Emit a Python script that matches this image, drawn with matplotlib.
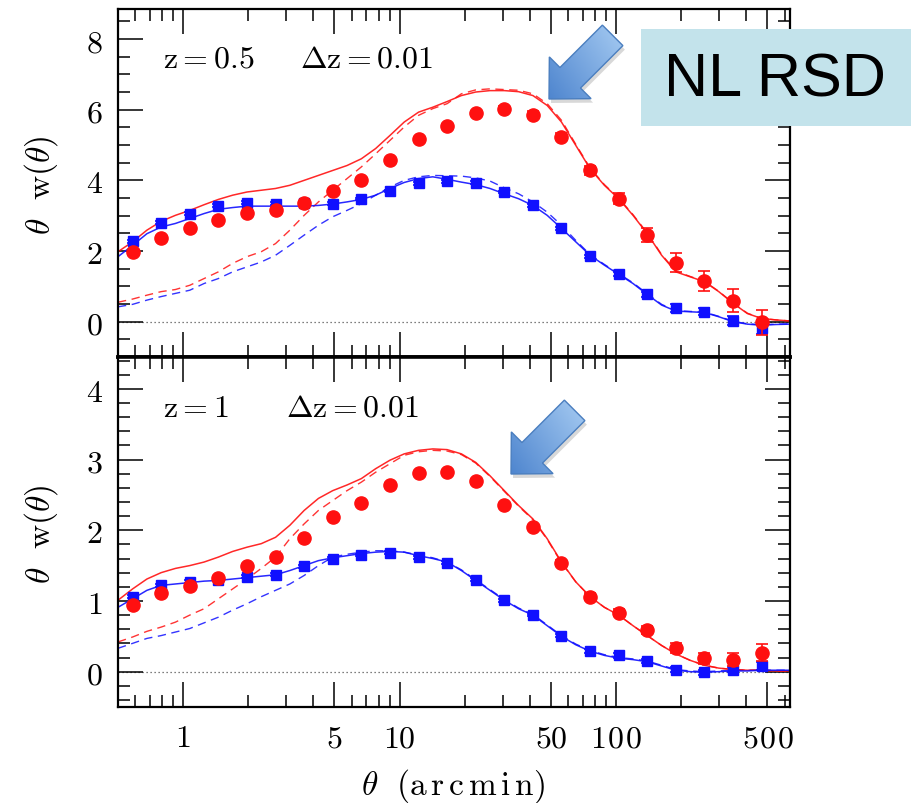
import numpy as np
import matplotlib.pyplot as plt
from matplotlib.patches import Polygon, Rectangle
from matplotlib.colors import LinearSegmentedColormap
from matplotlib.ticker import FixedLocator, FixedFormatter, NullFormatter

plt.rcParams['mathtext.fontset'] = 'cm'

# angular bins of the measurements (arcmin)
theta = [0.584, 0.791, 1.073, 1.454, 1.971, 2.672, 3.622, 4.909, 6.654, 9.020,
         12.23, 16.57, 22.46, 30.45, 41.27, 55.94, 75.83, 102.8, 139.3, 188.9,
         256.1, 347.1, 470.5]
# model curves are tabulated on a finer grid (bin centres and half bins)
theta_model = [0.5, 0.584, 0.680, 0.791, 0.921, 1.073, 1.249, 1.454, 1.693, 1.971,
               2.295, 2.672, 3.111, 3.622, 4.217, 4.909, 5.715, 6.654, 7.747, 9.020,
               10.50, 12.23, 14.23, 16.57, 19.29, 22.46, 26.15, 30.45, 35.44, 41.27,
               48.05, 55.94, 65.13, 75.83, 88.29, 102.8, 119.7, 139.3, 162.3, 188.9,
               219.9, 256.1, 298.1, 347.1, 404.1, 470.5, 547.7, 636]

# ---- z = 0.5 ----
red_pts_05 = [1.96, 2.38, 2.64, 2.88, 3.08, 3.16, 3.37, 3.70, 4.01, 4.58, 5.18, 5.53,
              5.90, 6.03, 5.86, 5.24, 4.28, 3.48, 2.45, 1.67, 1.15, 0.59, -0.02]
red_err_05 = [0.05, 0.05, 0.05, 0.05, 0.05, 0.05, 0.05, 0.05, 0.05, 0.06, 0.06, 0.07,
              0.07, 0.08, 0.09, 0.10, 0.12, 0.15, 0.20, 0.26, 0.28, 0.33, 0.36]
blue_pts_05 = [2.28, 2.80, 3.06, 3.28, 3.37, 3.34, 3.35, 3.34, 3.47, 3.70, 3.92, 3.97,
               3.93, 3.67, 3.29, 2.64, 1.85, 1.34, 0.77, 0.39, 0.28, 0.03, -0.19]
blue_err_05 = [0.04, 0.04, 0.04, 0.04, 0.04, 0.04, 0.04, 0.04, 0.04, 0.04, 0.04, 0.04,
               0.04, 0.04, 0.04, 0.04, 0.05, 0.06, 0.07, 0.12, 0.10, 0.12, 0.17]
red_solid_05 = [1.98, 2.26, 2.59, 2.84, 3.01, 3.15, 3.31, 3.46, 3.58, 3.67, 3.72, 3.77,
                3.86, 4.00, 4.14, 4.28, 4.42, 4.61, 4.90, 5.27, 5.65, 5.93, 6.07, 6.23,
                6.40, 6.50, 6.54, 6.54, 6.51, 6.40, 6.12, 5.65, 4.99, 4.33, 3.86, 3.48,
                3.01, 2.49, 1.88, 1.41, 1.27, 1.13, 0.85, 0.52, 0.23, 0.09, 0.05, 0.02]
red_dash_05 = [0.55, 0.64, 0.75, 0.85, 0.91, 1.03, 1.22, 1.41, 1.65, 1.84, 1.98, 2.21,
               2.59, 3.01, 3.39, 3.72, 4.05, 4.38, 4.75, 5.13, 5.51, 5.84, 6.03, 6.17,
               6.45, 6.56, 6.59, 6.57, 6.55, 6.45, 6.17, 5.70, 5.02, 4.35, 3.88, 3.50,
               3.03, 2.51, 1.90, 1.43, 1.28, 1.14, 0.86, 0.53, 0.24, 0.09, 0.05, 0.02]
blue_solid_05 = [1.84, 2.16, 2.49, 2.68, 2.78, 2.92, 3.06, 3.18, 3.23, 3.27, 3.27, 3.27,
                 3.27, 3.27, 3.29, 3.33, 3.39, 3.46, 3.58, 3.77, 3.94, 4.05, 4.10, 4.03,
                 3.95, 3.88, 3.77, 3.62, 3.48, 3.29, 3.01, 2.64, 2.26, 1.88, 1.60, 1.34,
                 1.08, 0.77, 0.47, 0.30, 0.28, 0.26, 0.14, 0.00, -0.07, -0.10, -0.08, -0.07]
blue_dash_05 = [0.42, 0.49, 0.61, 0.71, 0.80, 0.89, 1.08, 1.22, 1.41, 1.55, 1.69, 1.88,
                2.16, 2.45, 2.73, 2.97, 3.15, 3.34, 3.58, 3.81, 4.00, 4.10, 4.14, 4.13,
                4.12, 4.07, 3.98, 3.79, 3.62, 3.39, 3.10, 2.73, 2.30, 1.90, 1.62, 1.36,
                1.10, 0.79, 0.49, 0.31, 0.29, 0.27, 0.15, 0.01, -0.06, -0.09, -0.07, -0.06]

# ---- z = 1 ----
red_pts_1 = [0.94, 1.11, 1.21, 1.32, 1.49, 1.62, 1.89, 2.19, 2.39, 2.64, 2.81, 2.82,
             2.69, 2.36, 2.05, 1.54, 1.06, 0.83, 0.59, 0.33, 0.19, 0.17, 0.27]
red_err_1 = [0.03, 0.03, 0.03, 0.03, 0.03, 0.03, 0.03, 0.03, 0.03, 0.03, 0.03, 0.03,
             0.03, 0.03, 0.03, 0.04, 0.05, 0.05, 0.06, 0.07, 0.08, 0.09, 0.12]
blue_pts_1 = [1.06, 1.22, 1.27, 1.30, 1.34, 1.37, 1.49, 1.60, 1.65, 1.68, 1.62, 1.54,
              1.30, 1.01, 0.80, 0.51, 0.29, 0.23, 0.15, 0.03, -0.01, 0.03, 0.08]
blue_err_1 = [0.02, 0.02, 0.02, 0.02, 0.02, 0.02, 0.02, 0.02, 0.02, 0.02, 0.02, 0.02,
              0.02, 0.02, 0.02, 0.02, 0.03, 0.03, 0.03, 0.04, 0.04, 0.04, 0.05]
red_solid_1 = [1.01, 1.17, 1.31, 1.40, 1.46, 1.50, 1.55, 1.62, 1.70, 1.76, 1.81, 1.90,
               2.07, 2.28, 2.45, 2.56, 2.64, 2.73, 2.87, 2.99, 3.08, 3.13, 3.15, 3.14,
               3.08, 2.96, 2.77, 2.56, 2.35, 2.16, 1.88, 1.55, 1.27, 1.06, 0.91, 0.80,
               0.65, 0.51, 0.37, 0.25, 0.16, 0.09, 0.05, 0.03, 0.02, 0.02, 0.01, 0.01]
red_dash_1 = [0.42, 0.49, 0.57, 0.63, 0.70, 0.80, 0.89, 1.03, 1.17, 1.31, 1.46, 1.62,
              1.88, 2.09, 2.28, 2.42, 2.56, 2.68, 2.82, 2.94, 3.06, 3.11, 3.13, 3.12,
              3.07, 2.95, 2.76, 2.55, 2.34, 2.15, 1.87, 1.54, 1.27, 1.06, 0.91, 0.80,
              0.65, 0.51, 0.37, 0.25, 0.16, 0.09, 0.05, 0.03, 0.02, 0.02, 0.01, 0.01]
blue_solid_1 = [0.91, 1.03, 1.15, 1.22, 1.24, 1.26, 1.28, 1.29, 1.31, 1.33, 1.35, 1.37,
                1.43, 1.50, 1.57, 1.61, 1.64, 1.67, 1.69, 1.70, 1.69, 1.64, 1.60, 1.55,
                1.43, 1.29, 1.15, 1.01, 0.89, 0.80, 0.65, 0.50, 0.38, 0.29, 0.23, 0.19,
                0.17, 0.14, 0.08, 0.02, 0.00, -0.01, 0.00, 0.01, 0.01, 0.02, 0.02, 0.02]
blue_dash_1 = [0.33, 0.40, 0.47, 0.51, 0.56, 0.61, 0.69, 0.77, 0.87, 0.96, 1.06, 1.15,
               1.24, 1.36, 1.50, 1.62, 1.66, 1.69, 1.71, 1.71, 1.69, 1.65, 1.61, 1.55,
               1.44, 1.30, 1.16, 1.02, 0.90, 0.81, 0.66, 0.51, 0.39, 0.30, 0.24, 0.20,
               0.18, 0.15, 0.09, 0.03, 0.01, 0.00, 0.01, 0.02, 0.02, 0.02, 0.02, 0.02]

x_major = [1, 5, 10, 50, 100, 500]
x_labels = [r'$1$', r'$5$', r'$10$', r'$50$', r'$1\!\:0\!\:0$', r'$5\!\:0\!\:0$']
x_minor = [0.6, 0.7, 0.8, 0.9, 2, 3, 4, 6, 7, 8, 9, 20, 30, 40, 60, 70, 80, 90,
           200, 300, 400, 600]

RED = '#ff1010'
BLUE = '#1010ff'
W, H = 911, 804

fig = plt.figure(figsize=(W / 100, H / 100), dpi=100)
ax1 = fig.add_axes([118 / W, 1 - 358 / H, 672 / W, 348 / H])
ax2 = fig.add_axes([118 / W, 1 - 708 / H, 672 / W, 350 / H])


def draw_panel(ax, solid_r, dash_r, solid_b, dash_b, pr, er, pb, eb):
    ax.axhline(0, color='#555555', ls=(0, (1, 2.2)), lw=0.9, zorder=1)
    ax.plot(theta_model, dash_r, color=RED, lw=1.0, ls=(0, (6, 4)), alpha=0.85)
    ax.plot(theta_model, dash_b, color=BLUE, lw=1.0, ls=(0, (6, 4)), alpha=0.85)
    ax.plot(theta_model, solid_r, color=RED, lw=1.1, alpha=0.9)
    ax.plot(theta_model, solid_b, color=BLUE, lw=1.1, alpha=0.9)
    ax.errorbar(theta, pb, yerr=eb, fmt='s', color=BLUE, ms=7, elinewidth=1.2,
                capsize=4, capthick=1.2, zorder=4)
    ax.errorbar(theta, pr, yerr=er, fmt='o', color=RED, ms=9.5, elinewidth=1.2,
                capsize=4.5, capthick=1.2, zorder=5)
    ax.set_xscale('log')
    ax.set_xlim(0.5, 636)
    ax.xaxis.set_major_locator(FixedLocator(x_major))
    ax.xaxis.set_minor_locator(FixedLocator(x_minor))
    ax.xaxis.set_minor_formatter(NullFormatter())
    ax.tick_params(which='both', direction='in', top=True, right=True, width=1.1,
                   labelsize=23, pad=11)
    ax.tick_params(which='major', length=18)
    ax.tick_params(which='minor', length=8.5)
    for s in ax.spines.values():
        s.set_linewidth(1.6)


draw_panel(ax1, red_solid_05, red_dash_05, blue_solid_05, blue_dash_05,
           red_pts_05, red_err_05, blue_pts_05, blue_err_05)
draw_panel(ax2, red_solid_1, red_dash_1, blue_solid_1, blue_dash_1,
           red_pts_1, red_err_1, blue_pts_1, blue_err_1)

ax1.set_ylim(-1, 8.85)
ax1.yaxis.set_major_locator(FixedLocator([0, 2, 4, 6, 8]))
ax1.yaxis.set_major_formatter(FixedFormatter([r'$0$', r'$2$', r'$4$', r'$6$', r'$8$']))
ax1.yaxis.set_minor_locator(FixedLocator(np.arange(-0.5, 8.6, 0.5)))
ax1.xaxis.set_major_formatter(NullFormatter())
ax1.spines['bottom'].set_linewidth(2.6)

ax2.set_ylim(-0.5, 4.45)
ax2.yaxis.set_major_locator(FixedLocator([0, 1, 2, 3, 4]))
ax2.yaxis.set_major_formatter(FixedFormatter([r'$0$', r'$1$', r'$2$', r'$3$', r'$4$']))
ax2.yaxis.set_minor_locator(FixedLocator(np.arange(-0.4, 4.41, 0.2)))
ax2.xaxis.set_major_formatter(FixedFormatter(x_labels))
ax2.spines['top'].set_linewidth(2.6)


def px(ax, x, y):
    # pixel position (from the top-left corner) -> axes fraction
    bb = ax.get_position()
    return ((x / W - bb.x0) / bb.width, ((1 - y / H) - bb.y0) / bb.height)


# panel captions
captions = [(ax1, 163, 68, r'$\mathrm{z}=0.5$'), (ax1, 300, 68, r'$\Delta\mathrm{z}=0.01$'),
            (ax2, 163, 417, r'$\mathrm{z}=1$'), (ax2, 286, 417, r'$\Delta\mathrm{z}=0.01$')]
for ax, x, y, s in captions:
    ax.text(*px(ax, x, y), s, fontsize=23, va='baseline', transform=ax.transAxes)

ylab = r'$\theta\ \ \mathrm{w}(\theta)$'
fig.text(41 / W, 1 - 185 / H, ylab, rotation=90, ha='center', va='center', fontsize=24)
fig.text(41 / W, 1 - 534 / H, ylab, rotation=90, ha='center', va='center', fontsize=24)
fig.text(453 / W, 1 - 786 / H, r'$\theta\ \ (\mathrm{a\,r\,c\,m\,i\,n})$',
         ha='center', va='center', fontsize=24)

# overlay in pixel coordinates for the call-outs
ov = fig.add_axes([0, 0, 1, 1], zorder=10)
ov.axis('off')

ov.add_patch(Rectangle((641, 30), 280, 97, facecolor='#c3e3eb', edgecolor='none'))
ov.text(775, 81, 'NL RSD', fontsize=44, family='Liberation Sans', ha='center',
        va='center', color='black')

grad = LinearSegmentedColormap.from_list('arrow', ['#4f86cf', '#a6cbf2'])


def block_arrow(tip, length=90, head_len=30, head_w=59, shaft_w=29):
    d = np.array([np.cos(np.pi / 4), -np.sin(np.pi / 4)])
    n = np.array([np.sin(np.pi / 4), np.cos(np.pi / 4)])
    t = np.array(tip, float)
    base = t + head_len * d
    tail = t + length * d
    pts = np.array([t, base + head_w / 2 * n, base + shaft_w / 2 * n,
                    tail + shaft_w / 2 * n, tail - shaft_w / 2 * n,
                    base - shaft_w / 2 * n, base - head_w / 2 * n])
    ov.add_patch(Polygon(pts + [2, 4], closed=True, facecolor='#808080', alpha=0.3,
                         edgecolor='none'))
    poly = Polygon(pts, closed=True, facecolor='none', edgecolor='#4a7ebf', lw=1.0,
                   zorder=3)
    ov.add_patch(poly)
    x0, y0 = pts.min(axis=0)
    x1, y1 = pts.max(axis=0)
    gx, gy = np.meshgrid(np.linspace(0, 1, 60), np.linspace(0, 1, 60))
    img = ov.imshow(gx * 0.6 + (1 - gy) * 0.4, cmap=grad, extent=(x0, x1, y1, y0),
                    origin='upper', aspect='auto', zorder=2)
    img.set_clip_path(poly)


block_arrow((549, 100))
block_arrow((511, 475))
ov.set_xlim(0, W)
ov.set_ylim(H, 0)

fig.savefig('out.png', dpi=100)
